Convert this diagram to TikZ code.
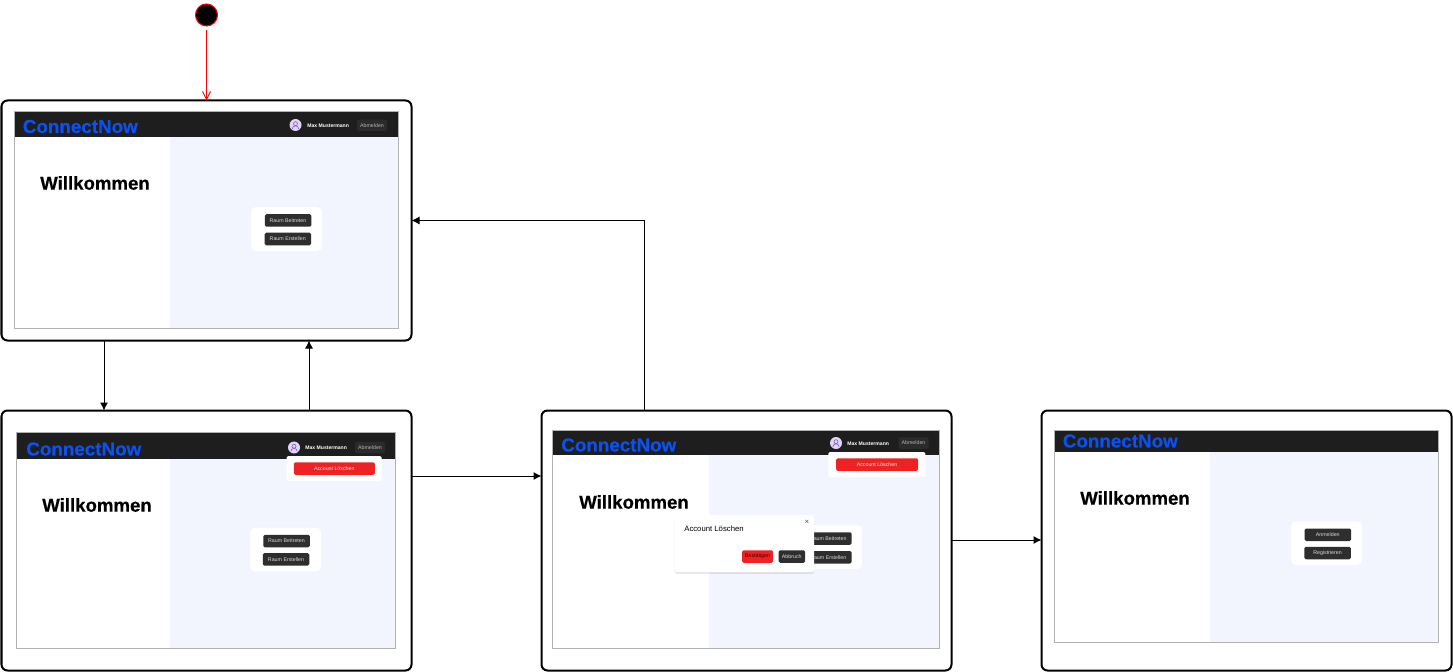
\documentclass[tikz,border=0pt]{standalone}
\usepackage{fontspec}
\setmainfont{Liberation Sans}
\newfontfamily\heavyfont[FakeBold=0.5]{Liberation Sans Bold}
\usetikzlibrary{arrows.meta, shadows}

\definecolor{barcol}{HTML}{1E1E1E}
\definecolor{pagecol}{HTML}{F2F5FD}
\definecolor{logocol}{HTML}{0B50F0}
\definecolor{btncol}{HTML}{2E2E2E}
\definecolor{redcol}{HTML}{EE2222}
\definecolor{avatarcol}{HTML}{E2D4F7}
\definecolor{avatarline}{HTML}{7A5FB0}

\def\px{0.02cm}

\tikzset{
    frame/.style={draw=black, line width=2*\px, rounded corners=6*\px, fill=white,
        minimum width=410*\px, minimum height=260*\px, inner sep=0pt, outer sep=0pt},
    flow/.style={-{Latex[length=8*\px, width=8*\px]}, line width=1*\px, black},
    logo/.style={anchor=west, inner sep=0pt, text=logocol, font=\fontsize{10.7}{12}\heavyfont},
    welcome/.style={inner sep=0pt, font=\fontsize{10.6}{12}\heavyfont},
    panel/.style={fill=white, rounded corners=5*\px, minimum width=71*\px, minimum height=44*\px, inner sep=0pt},
    darkbtn/.style={fill=btncol, text=white!85!black, rounded corners=1.5*\px, minimum width=46.5*\px,
        minimum height=12.5*\px, inner sep=0pt, font=\fontsize{3}{3.6}\selectfont},
    logoutbtn/.style={darkbtn, fill=white!17!black, text=white!70!black, minimum width=30*\px, minimum height=11.5*\px},
    redbtn/.style={darkbtn, fill=redcol, text=white!90!red, minimum width=81*\px},
    dropbox/.style={fill=white, rounded corners=1.5*\px, minimum width=95*\px, minimum height=25*\px, inner sep=0pt},
    username/.style={anchor=west, inner sep=0pt, text=white, font=\fontsize{2.9}{3.6}\selectfont\bfseries},
}

% one screenshot: name, x0, y0, x1, y1, bottom of bar, start of right half
\newcommand{\uiscreen}[7]{
    \fill[white] (#2,#3) rectangle (#4,#5);
    \fill[pagecol] (#7,#6) rectangle (#4,#5);
    \fill[barcol] (#2,#3) rectangle (#4,#6);
    \draw[black!30, line width=1*\px] (#2,#3) rectangle (#4,#5);
    \coordinate (#1) at (#2,#3);
}
\newcommand{\uiavatar}[3]{
    \node[circle, fill=avatarcol, minimum size=12*\px, inner sep=0pt] (#1) at (#2,#3) {};
    \draw[avatarline, line width=0.6*\px] (#2,#3-1.3) circle (2*\px);
    \draw[avatarline, line width=0.6*\px] (#2-3.2,#3+4) arc[start angle=180, end angle=0, radius=3.2*\px];
}

\begin{document}
\begin{tikzpicture}[x=\px, y=-\px]
    \useasboundingbox (0,0) rectangle (1453,672);

    % frames
    \node[frame, minimum height=240*\px] (home) at (206.5,220.5) {};
    \node[frame] (menu) at (206.5,540.5) {};
    \node[frame] (dialog) at (746.5,540.5) {};
    \node[frame] (login) at (1246.5,540.5) {};
    \node[circle, fill=black, draw=red, line width=1*\px, minimum size=22*\px, inner sep=0pt] (start) at (206.5,15) {};

    % home
    \uiscreen{scrA}{14}{111.5}{398}{328}{137}{170}
    \node[logo] (logoA) at (22.5,126.5) {ConnectNow};
    \node[welcome] (titleA) at (95,183) {Willkommen};
    \uiavatar{avatarA}{295.5}{125}
    \node[username] (nameA) at (307,125.5) {Max Mustermann};
    \node[logoutbtn] (logoutA) at (372,125.5) {Abmelden};
    \node[panel] (panelA) at (286.5,229) {};
    \node[darkbtn] (joinA) at (288,220.5) {Raum Beitreten};
    \node[darkbtn] (newA) at (287.75,239) {Raum Erstellen};

    % menu open
    \uiscreen{scrB}{16.5}{432}{395.5}{648}{459}{170}
    \node[logo] (logoB) at (26,449) {ConnectNow};
    \node[welcome] (titleB) at (97,505) {Willkommen};
    \uiavatar{avatarB}{294}{447.5}
    \node[username] (nameB) at (305,447.5) {Max Mustermann};
    \node[logoutbtn] (logoutB) at (370,447.5) {Abmelden};
    \node[dropbox] (dropB) at (334,468.5) {};
    \node[redbtn] (deleteB) at (334.25,468.5) {Account Löschen};
    \node[panel] (panelB) at (285.5,549.5) {};
    \node[darkbtn] (joinB) at (286.5,541) {Raum Beitreten};
    \node[darkbtn] (newB) at (286,559.25) {Raum Erstellen};

    % confirm dialog
    \uiscreen{scrC}{552.5}{430}{939.5}{648}{455}{709}
    \node[logo] (logoC) at (561,445) {ConnectNow};
    \node[welcome] (titleC) at (634,502) {Willkommen};
    \uiavatar{avatarC}{836}{443}
    \node[username] (nameC) at (847,443.5) {Max Mustermann};
    \node[logoutbtn] (logoutC) at (913.5,443) {Abmelden};
    \node[dropbox, minimum width=97*\px] (dropC) at (876.75,464.5) {};
    \node[redbtn, minimum width=82*\px] (deleteC) at (877,464.5) {Account Löschen};
    \node[panel] (panelC) at (826.5,547) {};
    \node[darkbtn] (joinC) at (828.25,538.5) {Raum Beitreten};
    \node[darkbtn] (newC) at (828.25,557.25) {Raum Erstellen};
    \node[fill=white, rounded corners=2*\px, minimum width=139.5*\px, minimum height=57*\px, inner sep=0pt,
        drop shadow={opacity=.18, shadow xshift=0pt, shadow yshift=-1pt}] (box) at (744.25,543.5) {};
    \node[anchor=west, inner sep=0pt, font=\fontsize{4.4}{5}\selectfont] (boxtitle) at (684,528.5) {Account Löschen};
    \node[inner sep=0pt, text=black!70, font=\fontsize{4.5}{5}\selectfont] (boxclose) at (807,522) {×};
    \node[redbtn, text=black!75!red, minimum width=31*\px] (confirm) at (757.5,556.5) {Bestätigen};
    \node[darkbtn, minimum width=26.5*\px] (cancel) at (791.75,556.5) {Abbruch};

    % logged out
    \uiscreen{scrD}{1054}{430}{1438}{642.5}{451.5}{1210}
    \node[logo] (logoD) at (1062.5,441) {ConnectNow};
    \node[welcome] (titleD) at (1135,498) {Willkommen};
    \node[panel] (panelD) at (1326.5,543.25) {};
    \node[darkbtn] (signin) at (1327.75,534.75) {Anmelden};
    \node[darkbtn] (signup) at (1327.5,553) {Registrieren};

    % connectors
    \coordinate (godown) at (104,375);
    \coordinate (goup) at (309,375);
    \coordinate (gomenu) at (600,476);
    \coordinate (gologin) at (1000,540);
    \coordinate (corner) at (644,220.5);
    \draw[-{Straight Barb[length=8*\px, width=8*\px]}, red, line width=1*\px, shorten <=4*\px] (start) -- (home.north);
    \draw[flow] (home.south -| godown) -- (menu.north -| godown);
    \draw[flow] (menu.north -| goup) -- (home.south -| goup);
    \draw[flow] (menu.east |- gomenu) -- (dialog.west |- gomenu);
    \draw[flow] (dialog.east |- gologin) -- (login.west |- gologin);
    \draw[flow] (dialog.north -| corner) -- (corner) -- (home.east |- corner);
\end{tikzpicture}
\end{document}
